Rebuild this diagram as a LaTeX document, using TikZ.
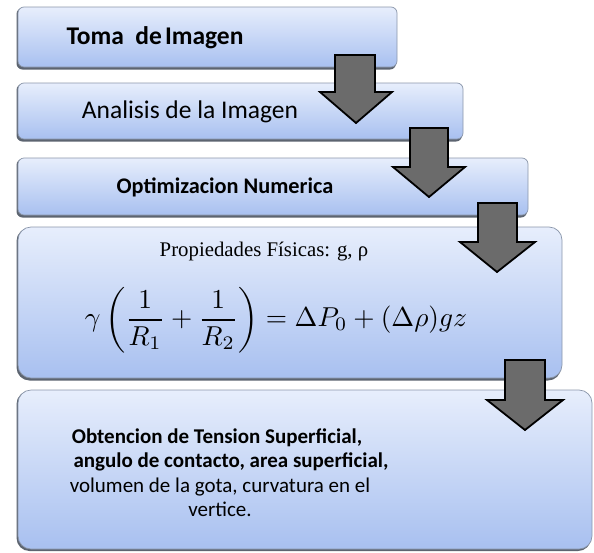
\documentclass[tikz,border=0pt]{standalone}
\usepackage{fontspec}
\setmainfont{Liberation Serif}
\newfontfamily\cfont{Carlito}
\definecolor{boxtop}{HTML}{E7EEFC}
\definecolor{boxbot}{HTML}{A8C0F0}
\definecolor{boxedge}{HTML}{8A96AA}
\definecolor{shadowc}{HTML}{5C6470}
\definecolor{arrowfill}{HTML}{6B6B6B}
\tikzset{
  boxshape/.style={draw=boxedge, line width=0.7pt, top color=boxtop, bottom color=boxbot},
  boxshadow/.style={fill=shadowc},
  blockarrow/.style={draw=black, line width=1.8pt, fill=arrowfill, line join=miter},
  stepfont/.style={inner sep=0pt, font=\cfont\bfseries\fontsize{21}{25}\selectfont},
  steplight/.style={inner sep=0pt, font=\cfont\fontsize{21}{25}\selectfont},
}
\begin{document}
\begin{tikzpicture}[x=1pt,y=-1pt]
\useasboundingbox (0,0) rectangle (594,552);
% box 1
\fill[boxshadow, rounded corners=6pt] (16.5,8) rectangle (396,69.5);
\path[boxshape, rounded corners=6pt] (18,7) rectangle (397,67);
% box 2
\fill[boxshadow, rounded corners=6pt] (16.5,84) rectangle (462,141.5);
\path[boxshape, rounded corners=6pt] (18,83) rectangle (463,139);
% box 3
\fill[boxshadow, rounded corners=6pt] (16.5,159) rectangle (527,217.5);
\path[boxshape, rounded corners=6pt] (18,158) rectangle (528,215);
% box 4
\fill[boxshadow, rounded corners=13pt] (16.5,228) rectangle (561,380.5);
\path[boxshape, rounded corners=13pt] (18,227) rectangle (562,378);
% box 5
\fill[boxshadow, rounded corners=13pt] (16.5,391) rectangle (591,551);
\path[boxshape, rounded corners=13pt] (18,390) rectangle (592,549);

% texts
\node[stepfont, anchor=base, font=\cfont\bfseries\fontsize{25.5}{30}\selectfont] (t1) at (155,44) {Toma\hspace{0.45em}de\hspace{0.12em}Imagen};
\node[steplight, anchor=base, font=\cfont\fontsize{25.5}{30}\selectfont] (t2) at (190,118) {Analisis de la Imagen};
\node[stepfont, anchor=base, font=\cfont\bfseries\fontsize{22.3}{27}\selectfont] (t3) at (225,193.5) {Optimizacion Numerica};
\node[inner sep=0pt, anchor=base, font=\fontsize{20.8}{24}\selectfont] (t4) at (264,256) {Propiedades Físicas: g, ρ};
\node[inner sep=0pt] (eq) at (276,320) {\resizebox{382pt}{!}{$\displaystyle \gamma\left(\frac{1}{R_1}+\frac{1}{R_2}\right)=\Delta P_0+(\Delta\rho)gz$}};
\node[stepfont, anchor=base] (l1) at (217,443) {Obtencion de Tension Superficial,};
\node[stepfont, anchor=base] (l2) at (231,467.5) {angulo de contacto, area superficial,};
\node[steplight, anchor=base] (l3) at (220,492) {volumen de la gota, curvatura en el};
\node[steplight, anchor=base] (l4) at (220,516.5) {vertice.};

% block arrows
\draw[blockarrow] (335,55) -- (375,55) -- (375,92) -- (392,92) -- (356,123) -- (320,92) -- (335,92) -- cycle;
\draw[blockarrow] (410,128) -- (448,128) -- (448,167) -- (465,167) -- (429,197) -- (393,167) -- (410,167) -- cycle;
\draw[blockarrow] (478,203) -- (517,203) -- (517,242) -- (535,242) -- (497,272) -- (460,242) -- (478,242) -- cycle;
\draw[blockarrow] (505,360) -- (545,360) -- (545,400) -- (563,400) -- (525,430) -- (487,400) -- (505,400) -- cycle;
\end{tikzpicture}
\end{document}
